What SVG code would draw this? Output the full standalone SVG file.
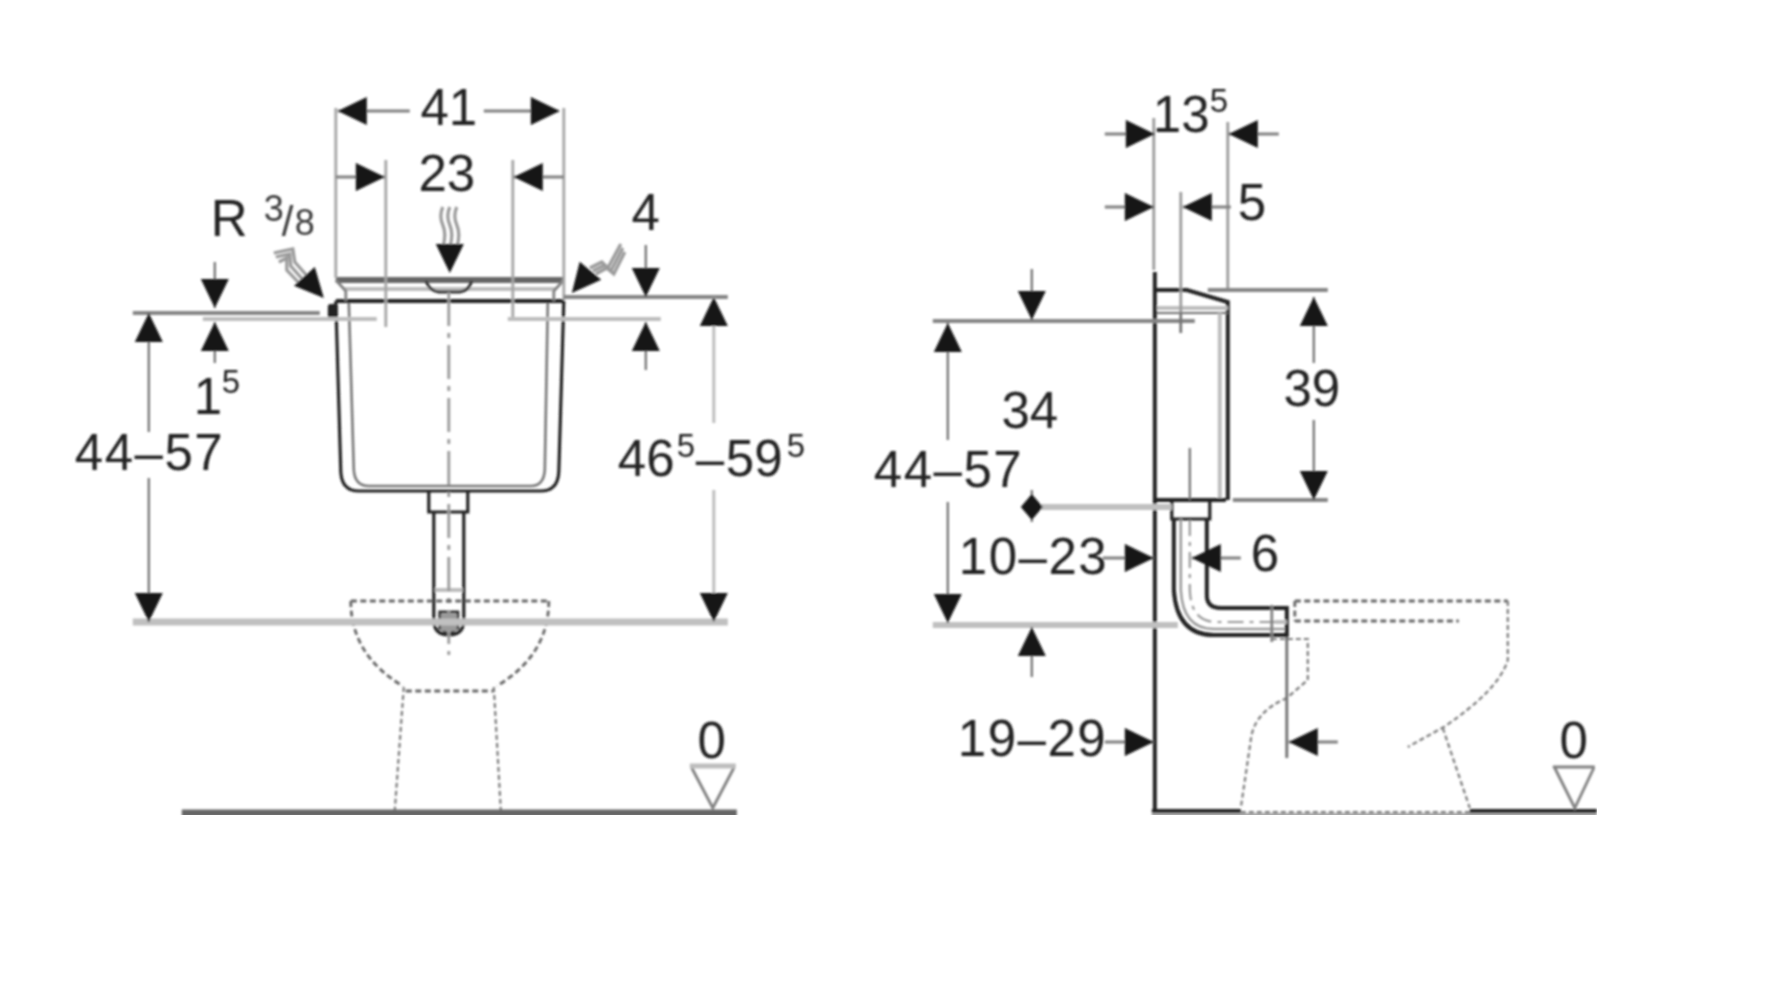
<svg xmlns="http://www.w3.org/2000/svg" width="1774" height="1000" viewBox="0 0 1774 1000">
<style>
text{font-family:"Liberation Sans",Arial,sans-serif;font-size:51px;fill:#222}
.c{text-anchor:middle}
.s{font-size:33px}
.f{font-size:36px;fill:#3a3a3a}
.x{letter-spacing:1.5px}
line,path,polyline,rect{fill:none}
.k{stroke:#222;stroke-width:3.2}
.K{stroke:#222;stroke-width:4}
.d{stroke:#808080;stroke-width:2.8}
.m{stroke:#858585;stroke-width:4}
.l{stroke:#bdbdbd;stroke-width:4}
.L{stroke:#c0c0c0;stroke-width:7}
.t{stroke:#6e6e6e;stroke-width:2.2}
.h{stroke:#666;stroke-width:2.8;stroke-dasharray:6 3.5}
.h2{stroke:#7a7a7a;stroke-width:2.2;stroke-dasharray:5 3}
.cl{stroke:#999;stroke-width:2.8;stroke-dasharray:34 7 5 7}
.w{stroke:#9a9a9a;stroke-width:3.2}
.a{fill:#151515}
</style>
<defs>
<polygon id="a" class="a" points="0,0 -14,-29 14,-29"/>
<filter id="b" x="0" y="0" width="100%" height="100%"><feGaussianBlur stdDeviation="1"/></filter>
</defs>
<g filter="url(#b)">
<g transform="translate(-1.2 0)">
<g id="cistern-front">
<path class="k" d="M337 301L342 472Q343 491 360 491H542Q559 491 560 472L565 301"/>
<path style="stroke:#777;stroke-width:2.6" d="M350 302L355 470Q356 486 370 486H532Q545 486 546 470L549 302"/>
<line class="K" x1="337" y1="301" x2="565" y2="301"/>
<path d="M337 280H565" style="stroke-width:6;stroke:#666"/>
<path class="l" d="M345 289H557"/>
<path class="d" d="M337 280L347 291V301M565 280L555 291V301"/>
<path style="stroke:#333;stroke-width:3" d="M427 281Q431 291 440 292H461Q470 291 473 281"/>
<rect x="329" y="304" width="10" height="15" rx="3" style="fill:#222"/>
<path class="k" d="M430 491V512H469V491M430 512H469"/>
<path class="k" d="M435 512V620Q435 635 450 635Q465 635 465 620V512"/>
<path style="stroke:#333;stroke-width:3" d="M441 612H459V628L450 635L441 628Z"/>
<rect x="442" y="614" width="16" height="17" style="fill:#999"/>
<line class="l" x1="436" y1="590" x2="464" y2="590"/>
<line class="cl" x1="450" y1="292" x2="450" y2="655"/>
</g>
<g id="toilet-front">
<path class="h" d="M352 601H550M352 601Q352 655 404 686M550 601Q550 655 498 686M407 691H495"/>
<path class="h2" d="M405 687L396 810M495 687L502 810M396 812H502"/>
<line x1="183" y1="813" x2="738" y2="813" style="stroke:#666;stroke-width:7"/>
<path class="d" d="M693 768L714 808L735 768"/>
<line class="l" x1="691" y1="766" x2="737" y2="766" style="stroke-width:5"/>
</g>
<g id="cistern-side">
<path class="k" d="M1156 290H1188L1229 302V500M1156 500H1227" style="stroke-width:4"/>
<line class="l" x1="1156" y1="308" x2="1229" y2="308"/>
<line class="t" x1="1156" y1="313" x2="1229" y2="313"/>
<line class="l" x1="1221" y1="313" x2="1221" y2="498"/>
<line class="t" x1="1191" y1="448" x2="1191" y2="500"/>
<path class="k" d="M1173 500V519H1211V500M1173 519H1211"/>
<path class="K" d="M1175 519V590Q1178 635 1215 635H1288V608H1222Q1208 608 1208 595V519"/>
<path style="stroke:#999;stroke-width:2.5" d="M1182 519V590Q1184 629 1215 629H1286"/>
<path style="stroke-dasharray:16 6 4 6;stroke:#999;stroke-width:2.2" d="M1191 520V590Q1192 622 1218 622H1286"/>
<path class="d" d="M1273 605V642"/>
<line class="l" x1="1276" y1="622" x2="1288" y2="622"/>
</g>
<g id="toilet-side">
<path class="h" d="M1296 601H1509M1296 621H1460M1296 601V621"/>
<path class="h2" d="M1509 601V660Q1500 690 1445 727L1409 747M1444 728L1471 808M1273 639H1309V680L1288 698Q1255 712 1252 740L1242 808"/>
<line class="h2" x1="1242" y1="812" x2="1471" y2="812"/>
<path d="M1153 811H1242M1471 811H1598" style="stroke:#222;stroke-width:4"/>
<line x1="1153" y1="815" x2="1598" y2="815" style="stroke:#aaa;stroke-width:4"/>
<line class="K" x1="1156" y1="272" x2="1156" y2="813"/>
<path class="d" d="M1556 768L1576 808L1595 768M1554 767H1596"/>
</g>
<g id="connectors">
<path class="d" d="M337 108V278M565 108V300M387 160V327M514 160V320" style="stroke:#a5a5a5"/>
<path class="d" d="M339 111H411M485 111H560M337 177H386M515 177H565"/>
<use href="#a" transform="translate(339 111) rotate(90)"/>
<use href="#a" transform="translate(561 111) rotate(-90)"/>
<use href="#a" transform="translate(386 177) rotate(-90)"/>
<use href="#a" transform="translate(515 177) rotate(90)"/>
<line class="m" x1="134" y1="313" x2="321" y2="313"/>
<path class="l" d="M204 319H378M509 319H662"/>
<line class="m" x1="565" y1="297" x2="729" y2="297"/>
<line class="L" x1="134" y1="622" x2="729" y2="622"/>
<path class="t" d="M216 262V308M216 322V363M647 245V297M647 322V370M150 313V432M150 478V622"/>
<path class="l" style="stroke-width:3" d="M715 297V423M715 490V622"/>
<use href="#a" transform="translate(216 308)"/>
<use href="#a" transform="translate(216 322) rotate(180)"/>
<use href="#a" transform="translate(647 297)"/>
<use href="#a" transform="translate(647 322) rotate(180)"/>
<use href="#a" transform="translate(150 313) rotate(180)"/>
<use href="#a" transform="translate(150 622)"/>
<use href="#a" transform="translate(715 297) rotate(180)"/>
<use href="#a" transform="translate(715 622)"/>
<path class="w" d="M444 207Q440 216 444 225T444 247M451 207Q447 216 451 225T451 247M458 207Q454 216 458 225T458 247"/>
<use href="#a" transform="translate(451 273)"/>
<path class="w" d="M275 253L294 249L296 262L311 279M280 262L288 258L288 270L303 286M277 257L291 254L292 266L307 283"/>
<use href="#a" transform="translate(325 298) rotate(-42)"/>
<path class="w" d="M591 268L603 262L609 268L622 244M597 274L608 268L615 274L626 252M594 271L606 265L612 271L624 248"/>
<use href="#a" transform="translate(573 293) rotate(40)"/>
<path class="d" d="M1155 118V270M1229 122V290M1182 192V333" style="stroke:#999"/>
<path class="d" d="M1106 134H1156M1230 134H1280M1106 207H1155M1184 207H1232M1106 742H1155M1290 742H1339M1104 558H1155M1193 558H1242"/>
<line class="t" x1="1288" y1="637" x2="1288" y2="758" style="stroke-width:2.8"/>
<use href="#a" transform="translate(1156 134) rotate(-90)"/>
<use href="#a" transform="translate(1230 134) rotate(90)"/>
<use href="#a" transform="translate(1155 207) rotate(-90)"/>
<use href="#a" transform="translate(1184 207) rotate(90)"/>
<use href="#a" transform="translate(1155 558) rotate(-90)"/>
<use href="#a" transform="translate(1193 558) rotate(90)"/>
<use href="#a" transform="translate(1155 742) rotate(-90)"/>
<use href="#a" transform="translate(1290 742) rotate(90)"/>
<path class="m" d="M934 321H1196M1209 290H1329M1234 500H1329"/>
<path class="L" d="M1036 507H1173M934 625H1179" style="stroke-width:6"/>
<path class="t" d="M1033 269V320M1033 627V677M949 323V440M949 502V623M1315 297V363M1315 420V500M1033 490V522M1182 312V333"/>
<use href="#a" transform="translate(1033 320)"/>
<use href="#a" transform="translate(1033 627) rotate(180)"/>
<use href="#a" transform="translate(949 323) rotate(180)"/>
<use href="#a" transform="translate(949 623)"/>
<use href="#a" transform="translate(1315 297) rotate(180)"/>
<use href="#a" transform="translate(1315 500)"/>
<polygon class="a" points="1033,494 1044,507 1033,520 1022,507"/>
</g>
<g id="labels">
<text class="c" x="450" y="125">41</text>
<text class="c" x="448" y="191">23</text>
<text x="212" y="236">R</text>
<text class="f" x="265" y="221">3</text><text class="f" x="283" y="236" style="font-size:42px">/</text><text class="f" x="296" y="235">8</text>
<text class="c" x="647" y="230">4</text>
<text x="195" y="414">1</text><text class="s" x="223" y="393">5</text>
<text class="x" x="76" y="470">44–57</text>
<text x="619" y="476">46</text><text class="s" x="678" y="457">5</text><text x="697" y="476">–</text><text x="727" y="476">59</text><text class="s" x="788" y="457">5</text>
<text class="c" x="713" y="758">0</text>
<text x="1154" y="132">13</text><text class="s" x="1211" y="112">5</text>
<text x="1239" y="220">5</text>
<text class="c" x="1031" y="428">34</text>
<text class="c" x="1313" y="406">39</text>
<text class="x" x="875" y="487">44–57</text>
<text class="x" x="960" y="574">10–23</text>
<text x="1252" y="571">6</text>
<text class="x" x="959" y="756">19–29</text>
<text class="c" x="1575" y="758">0</text>
</g>
</g>
</g>
</svg>
